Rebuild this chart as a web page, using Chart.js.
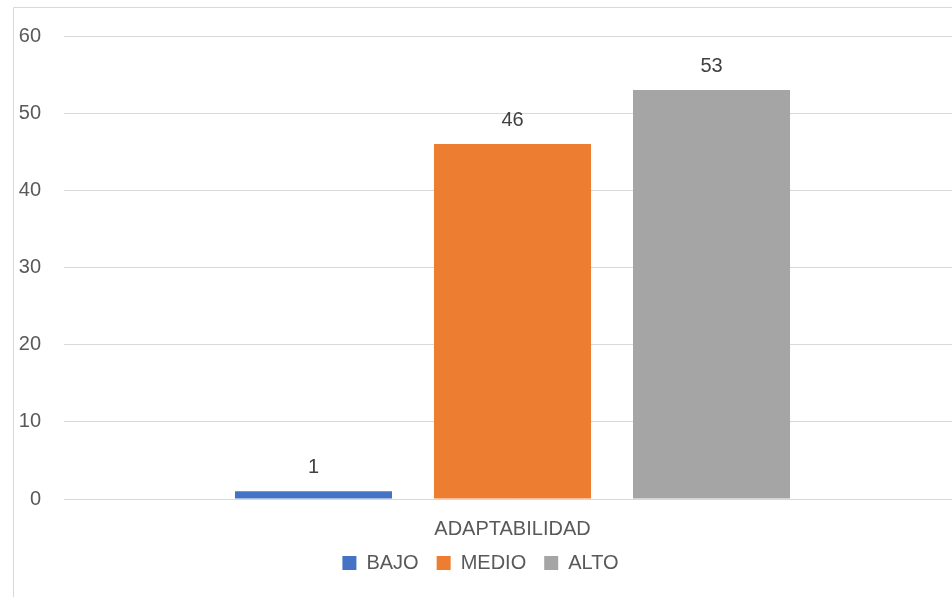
<!DOCTYPE html>
<html>
<head>
<meta charset="utf-8">
<script src="https://cdn.jsdelivr.net/npm/chart.js@4/dist/chart.umd.min.js"></script>
<style>
  html, body { margin: 0; padding: 0; background: #fff; overflow: hidden; }
  #wrap { position: absolute; left: 0; top: 0; width: 961px; height: 597px; }
</style>
</head>
<body>
<div id="wrap"><canvas id="c"></canvas></div>
<script>
const categories = ["ADAPTABILIDAD"];
const seriesNames = ["BAJO", "MEDIO", "ALTO"];
const bajoValues = [1];
const medioValues = [46];
const altoValues = [53];
const seriesColors = ["#4472C4", "#ED7D31", "#A5A5A5"];
const yTicks = { min: 0, max: 60, step: 10 };

const FONT = "'Liberation Sans', Arial, sans-serif";
const TEXT = "#595959";

const borderPlugin = {
  id: 'frame',
  beforeDraw(chart) {
    const ctx = chart.ctx;
    ctx.save();
    ctx.strokeStyle = '#D9D9D9';
    ctx.lineWidth = 1;
    ctx.beginPath();
    ctx.moveTo(13.5, chart.height + 5);
    ctx.lineTo(13.5, 7.5);
    ctx.lineTo(chart.width + 5, 7.5);
    ctx.stroke();
    ctx.restore();
  }
};

const labelPlugin = {
  id: 'valueLabels',
  afterDatasetsDraw(chart) {
    const ctx = chart.ctx;
    ctx.save();
    ctx.font = "20px " + FONT;
    ctx.fillStyle = "#404040";
    ctx.textAlign = 'center';
    ctx.textBaseline = 'middle';
    chart.data.datasets.forEach((ds, i) => {
      chart.getDatasetMeta(i).data.forEach((el, j) => {
        ctx.fillText(String(ds.data[j]), el.x, el.y - 24);
      });
    });
    ctx.restore();
  }
};

const data = {
  labels: categories,
  datasets: [
    { label: seriesNames[0], data: bajoValues, backgroundColor: seriesColors[0] },
    { label: seriesNames[1], data: medioValues, backgroundColor: seriesColors[1] },
    { label: seriesNames[2], data: altoValues, backgroundColor: seriesColors[2] }
  ]
};

new Chart(document.getElementById('c'), {
  type: 'bar',
  data,
  plugins: [borderPlugin, labelPlugin],
  options: {
    responsive: true,
    maintainAspectRatio: false,
    animation: false,
    devicePixelRatio: 1,
    layout: { padding: { top: 36, left: 0, right: 0, bottom: 14 } },
    datasets: { bar: { categoryPercentage: 0.6656, barPercentage: 0.789 } },
    plugins: {
      tooltip: { enabled: false },
      legend: {
        position: 'bottom',
        labels: {
          color: TEXT,
          font: { size: 20, family: FONT },
          boxWidth: 14,
          boxHeight: 14,
          padding: 18
        }
      }
    },
    scales: {
      x: {
        afterFit(scale) { scale.height = 36; },
        grid: { display: false, drawTicks: false },
        border: { display: false },
        ticks: { color: TEXT, font: { size: 20, family: FONT }, padding: 18 }
      },
      y: {
        min: yTicks.min,
        max: yTicks.max,
        afterFit(scale) { scale.width = 64; },
        grid: { color: '#D9D9D9', lineWidth: 1, drawTicks: false },
        border: { display: false },
        ticks: { stepSize: yTicks.step, color: TEXT, font: { size: 20, family: FONT }, padding: 23 }
      }
    }
  }
});
</script>
</body>
</html>
